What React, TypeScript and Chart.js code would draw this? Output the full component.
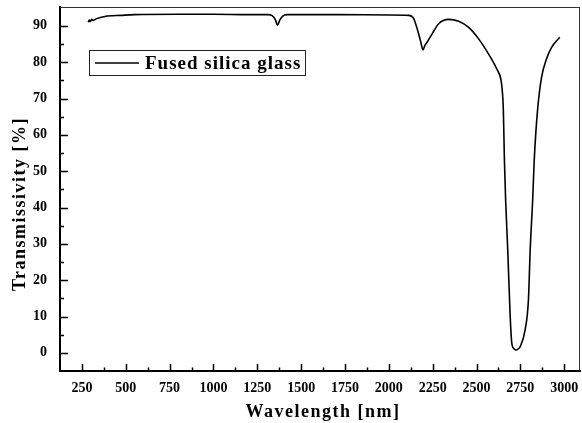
import React, { useEffect, useRef } from 'react';
import { Chart, registerables } from 'chart.js';

Chart.register(...registerables);

const wavelengths = [
  286, 292, 298, 305, 315, 334, 381, 475, 550, 800, 1000, 1200, 1310, 1335, 1352, 1365, 1378, 1395, 1420,
  1700, 2000, 2113, 2142, 2159, 2180, 2195, 2205, 2218, 2247, 2284, 2341, 2398, 2455, 2511, 2568, 2615,
  2640, 2648, 2653, 2659, 2666, 2678, 2692, 2701, 2712, 2724, 2738, 2749, 2777, 2796, 2806, 2820, 2829,
  2848, 2871, 2899, 2928, 2975,
];
const transmissivity = [
  91.0, 91.6, 91.2, 91.8, 91.5, 92.0, 92.6, 92.9, 93.1, 93.2, 93.2, 93.1, 93.1, 92.8, 91.8, 90.2, 91.6, 92.7, 93.1,
  93.1, 93.0, 92.9, 92.0, 89.6, 86.0, 83.4, 84.6, 85.5, 87.8, 90.6, 91.8, 91.3, 89.6, 86.5, 82.3, 78.2,
  75.0, 71.5, 66.8, 53.0, 42.0, 28.3, 10.0, 2.7, 1.2, 0.8, 1.1, 1.7, 6.3, 14.6, 28.3, 42.0, 53.0,
  66.8, 75.9, 80.9, 84.1, 86.9,
];

const xTickValues = [250, 500, 750, 1000, 1250, 1500, 1750, 2000, 2250, 2500, 2750, 3000];
const xMinorTicks = [375, 625, 875, 1125, 1375, 1625, 1875, 2125, 2375, 2625, 2875];
const yTickValues = [0, 10, 20, 30, 40, 50, 60, 70, 80, 90];
const yMinorTicks = [5, 15, 25, 35, 45, 55, 65, 75, 85];

const seriesLabel = 'Fused silica glass';
const xTitle = 'Wavelength [nm]';
const yTitle = 'Transmissivity [%]';

const FONT = '"Liberation Serif", "Times New Roman", serif';

const decorPlugin = {
  id: 'decor',
  afterDraw(chart: any) {
    const { ctx, chartArea: a, scales } = chart;
    const x = scales.x;
    const y = scales.y;
    ctx.save();
    // frame top & right
    ctx.strokeStyle = '#333';
    ctx.lineWidth = 1;
    ctx.beginPath();
    ctx.moveTo(a.left, a.top + 0.5);
    ctx.lineTo(a.right, a.top + 0.5);
    ctx.moveTo(a.right - 0.5, a.top);
    ctx.lineTo(a.right - 0.5, a.bottom);
    ctx.stroke();

    // inward ticks
    ctx.strokeStyle = '#000';
    ctx.lineWidth = 1.5;
    ctx.beginPath();
    xTickValues.forEach((v) => {
      const px = Math.round(x.getPixelForValue(v)) + 0.5;
      ctx.moveTo(px, a.bottom);
      ctx.lineTo(px, a.bottom - 7);
    });
    xMinorTicks.forEach((v) => {
      const px = Math.round(x.getPixelForValue(v)) + 0.5;
      ctx.moveTo(px, a.bottom);
      ctx.lineTo(px, a.bottom - 3.5);
    });
    yTickValues.forEach((v) => {
      const py = Math.round(y.getPixelForValue(v)) + 0.5;
      ctx.moveTo(a.left, py);
      ctx.lineTo(a.left + 8, py);
    });
    yMinorTicks.forEach((v) => {
      const py = Math.round(y.getPixelForValue(v)) + 0.5;
      ctx.moveTo(a.left, py);
      ctx.lineTo(a.left + 4, py);
    });
    ctx.stroke();

    // legend
    ctx.strokeStyle = '#222';
    ctx.lineWidth = 1;
    ctx.strokeRect(89.5, 50.5, 216, 25);
    ctx.strokeStyle = '#000';
    ctx.lineWidth = 1.5;
    ctx.beginPath();
    ctx.moveTo(95, 63);
    ctx.lineTo(139, 63);
    ctx.stroke();
    ctx.fillStyle = '#000';
    ctx.font = `bold 19px ${FONT}`;
    (ctx as any).letterSpacing = '1px';
    ctx.textAlign = 'left';
    ctx.textBaseline = 'middle';
    ctx.fillText(seriesLabel, 145, 64);

    // axis titles
    ctx.font = `bold 18px ${FONT}`;
    (ctx as any).letterSpacing = '1.5px';
    ctx.textAlign = 'center';
    ctx.textBaseline = 'middle';
    ctx.fillText(xTitle, 323, 412);
    ctx.save();
    ctx.translate(20, 204);
    ctx.rotate(-Math.PI / 2);
    ctx.fillText(yTitle, 0, 0);
    ctx.restore();
    ctx.restore();
  },
};

export default function App() {
  const canvasRef = useRef<HTMLCanvasElement | null>(null);

  useEffect(() => {
    if (!canvasRef.current) return;
    const points = wavelengths.map((w, i) => ({ x: w, y: transmissivity[i] }));
    const tickFont = { family: FONT, weight: 'bold' as const, size: 14 };
    const chart = new Chart(canvasRef.current, {
      type: 'line',
      data: {
        datasets: [
          {
            label: seriesLabel,
            data: points,
            borderColor: '#000',
            borderWidth: 1.6,
            pointRadius: 0,
            fill: false,
            cubicInterpolationMode: 'monotone',
          },
        ],
      },
      options: {
        animation: false,
        responsive: false,
        devicePixelRatio: 1,
        layout: { padding: { top: 7, right: 2, left: 0, bottom: 0 } },
        plugins: {
          legend: { display: false },
          tooltip: { enabled: false },
        },
        scales: {
          x: {
            type: 'linear',
            min: 125,
            max: 3090,
            afterBuildTicks: (scale: any) => {
              scale.ticks = xTickValues.map((v) => ({ value: v }));
            },
            afterFit: (scale: any) => {
              scale.height = 52;
              scale.paddingLeft = 0;
              scale.paddingRight = 0;
            },
            grid: { display: false, drawTicks: false },
            border: { display: true, color: '#000', width: 2 },
            ticks: {
              font: tickFont,
              color: '#000',
              padding: 9,
              maxRotation: 0,
              autoSkip: false,
              callback: (v: any) => String(v),
            },
          },
          y: {
            type: 'linear',
            min: -5,
            max: 95.2,
            afterBuildTicks: (scale: any) => {
              scale.ticks = yTickValues.map((v) => ({ value: v }));
            },
            afterFit: (scale: any) => {
              scale.width = 60;
              scale.paddingTop = 0;
              scale.paddingBottom = 0;
            },
            grid: { display: false, drawTicks: false },
            border: { display: true, color: '#000', width: 2 },
            ticks: { font: tickFont, color: '#000', padding: 13, autoSkip: false, callback: (v: any) => String(v) },
          },
        },
      },
      plugins: [decorPlugin],
    });
    return () => chart.destroy();
  }, []);

  return (
    <div style={{ position: 'fixed', left: 0, top: 0, width: 582, height: 423, background: '#fff' }}>
      <canvas ref={canvasRef} width={582} height={423} style={{ width: 582, height: 423, display: 'block' }} />
    </div>
  );
}
